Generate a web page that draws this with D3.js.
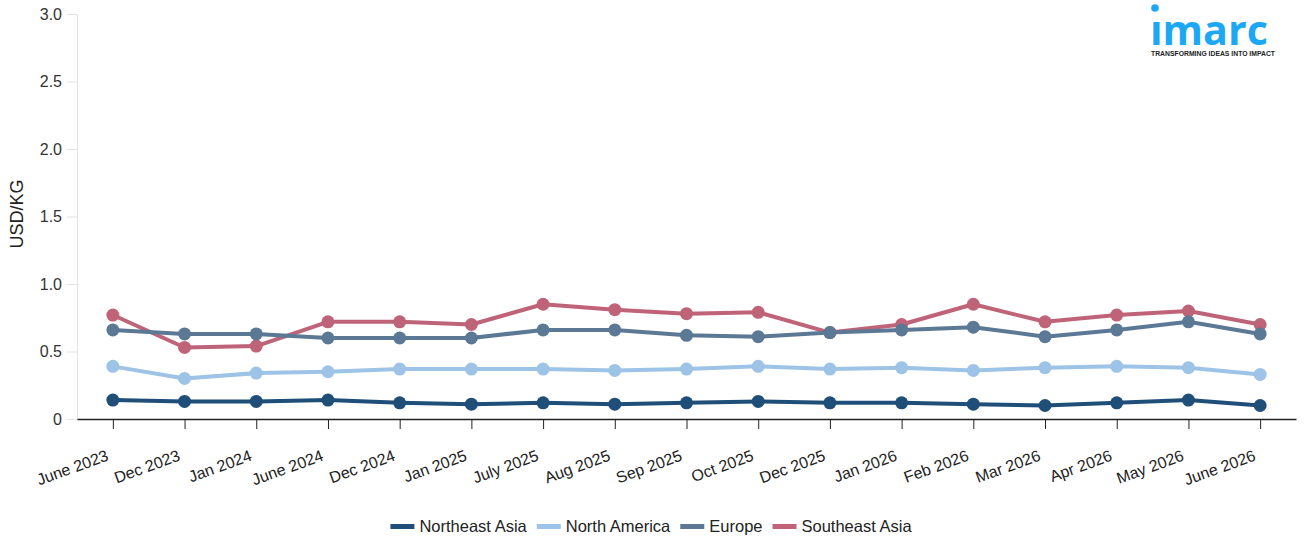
<!DOCTYPE html>
<html><head><meta charset="utf-8">
<script src="https://cdn.jsdelivr.net/npm/d3@7"></script>
<style>body{margin:0;background:#fff;font-family:Arial,"Liberation Sans",sans-serif;}</style>
</head><body><svg id="c" width="1306" height="549"></svg>
<script>
const categories = ["June 2023","Dec 2023","Jan 2024","June 2024","Dec 2024","Jan 2025","July 2025","Aug 2025","Sep 2025","Oct 2025","Dec 2025","Jan 2026","Feb 2026","Mar 2026","Apr 2026","May 2026","June 2026"];
const northeastAsia = [0.14,0.13,0.13,0.14,0.12,0.11,0.12,0.11,0.12,0.13,0.12,0.12,0.11,0.10,0.12,0.14,0.10];
const northAmerica = [0.39,0.30,0.34,0.35,0.37,0.37,0.37,0.36,0.37,0.39,0.37,0.38,0.36,0.38,0.39,0.38,0.33];
const europe = [0.66,0.63,0.63,0.60,0.60,0.60,0.66,0.66,0.62,0.61,0.64,0.66,0.68,0.61,0.66,0.72,0.63];
const southeastAsia = [0.77,0.53,0.54,0.72,0.72,0.70,0.85,0.81,0.78,0.79,0.64,0.70,0.85,0.72,0.77,0.80,0.70];
const yTicks = [0,0.5,1.0,1.5,2.0,2.5,3.0];
const seriesNames = ["Northeast Asia","North America","Europe","Southeast Asia"];
const seriesColors = ["#1f4e79","#9dc3e6","#5b7895","#bf6478"];
const seriesValues = [northeastAsia, northAmerica, europe, southeastAsia];

const FONT = "Arial,'Liberation Sans',sans-serif";
const svg = d3.select("#c");
const x = d3.scalePoint().domain(categories).range([77,1296]).padding(0.5);
const y = d3.scaleLinear().domain([0,3]).range([419,14]);

// y axis
const ya = svg.append("g").attr("transform","translate(77,0)")
  .call(d3.axisLeft(y).tickValues(yTicks).tickSize(10).tickPadding(5).tickFormat(d=>d===0?"0":d3.format(".1f")(d)));
ya.select(".domain").attr("stroke","#e3e3e3");
ya.selectAll(".tick line").attr("stroke","#e3e3e3");
ya.selectAll("text").attr("font-size","16px").attr("fill","#333").attr("font-family",FONT);

svg.append("text").attr("transform","translate(23,214) rotate(-90)").attr("text-anchor","middle")
  .attr("font-family",FONT).attr("font-size","18px").attr("fill","#222").text("USD/KG");

// x axis
const xa = svg.append("g").attr("transform","translate(0,419)")
  .call(d3.axisBottom(x).tickSize(10).tickSizeOuter(0));
xa.select(".domain").attr("stroke","#222").attr("stroke-width",1.5);
xa.selectAll(".tick line").attr("stroke","#222");
xa.selectAll("text").attr("font-size","16px").attr("fill","#222").attr("font-family",FONT)
  .attr("text-anchor","end").attr("dy","0").attr("y",0)
  .attr("transform","translate(-4,41) rotate(-20)");

// series (draw in reverse order so earlier series lie on top)
const line = d3.line().x((d,i)=>x(categories[i])).y(d=>y(d));
for (let s = seriesValues.length-1; s>=0; s--) {
  const g = svg.append("g");
  g.append("path").datum(seriesValues[s]).attr("d",line).attr("fill","none")
    .attr("stroke",seriesColors[s]).attr("stroke-width",4).attr("stroke-linejoin","round");
  g.selectAll("circle").data(seriesValues[s]).join("circle")
    .attr("cx",(d,i)=>x(categories[i])).attr("cy",d=>y(d)).attr("r",6.5).attr("fill",seriesColors[s]);
}

// legend (laid out from measured text widths, centred)
const leg = svg.append("g");
const items = seriesNames.map((n,i)=>{
  const it = leg.append("g");
  it.append("rect").attr("x",0).attr("y",524).attr("width",24).attr("height",5).attr("fill",seriesColors[i]);
  const t = it.append("text").attr("x",29).attr("y",532).attr("font-family",FONT).attr("font-size","16.5px").attr("fill","#222").text(n);
  return {g: it, w: 29 + t.node().getComputedTextLength()};
});
const gap = 10;
const total = d3.sum(items, d=>d.w) + gap*(items.length-1);
let cx = 651 - total/2;
items.forEach(it=>{ it.g.attr("transform",`translate(${cx},0)`); cx += it.w + gap; });

// logo
const logo = svg.append("g");
logo.append("text").attr("x",1150).attr("y",45).attr("font-size","42px").attr("font-weight","bold")
  .attr("fill","#1ca8f4").attr("font-family","'Open Sans',Arial,sans-serif")
  .attr("textLength",118).attr("lengthAdjust","spacingAndGlyphs").text("ımarc");
logo.append("circle").attr("cx",1155).attr("cy",8).attr("r",3.8).attr("fill","#1ca8f4");
logo.append("text").attr("x",1151).attr("y",56).attr("font-size","6.5px").attr("font-weight","bold")
  .attr("font-family",FONT).attr("fill","#222").attr("textLength",124).attr("lengthAdjust","spacingAndGlyphs")
  .text("TRANSFORMING IDEAS INTO IMPACT");
</script></body></html>
